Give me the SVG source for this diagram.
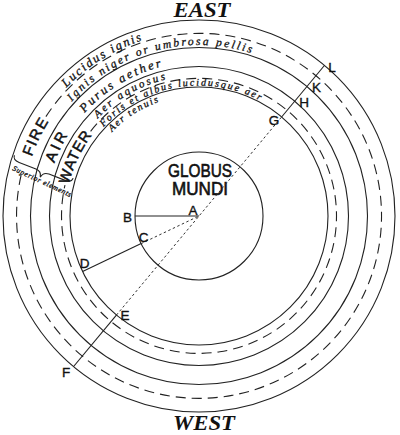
<svg xmlns="http://www.w3.org/2000/svg" width="400" height="435" viewBox="0 0 400 435">
<style>
.ln{fill:none;stroke:#222;stroke-width:1.1}
.dash{fill:none;stroke:#222;stroke-width:1.1;stroke-dasharray:10 6}
.dot{fill:none;stroke:#333;stroke-width:1;stroke-dasharray:2.5 2.5}
.lbl{font-family:"Liberation Sans",Arial,sans-serif;font-size:13.5px;fill:#111;stroke:#111;stroke-width:0.35}
.it{font-family:"Liberation Serif","Times New Roman",serif;font-style:italic;fill:#111;stroke:#111;stroke-width:0.3}
.el{font-family:"Liberation Sans",Arial,sans-serif;font-size:15px;fill:#111;stroke:#111;stroke-width:0.5}
.title{font-family:"Liberation Serif","Times New Roman",serif;font-style:italic;font-weight:bold;font-size:20px;fill:#111}
</style>
<defs>
<path id="pLuc" d="M66.3,87.8 A184.5,184.5 0 0 1 167,34.3"/>
<path id="pIgn" d="M71.9,101.6 A171,171 0 0 1 271.3,61"/>
<path id="pPur" d="M84.6,113 A154,154 0 0 1 185.6,62.6"/>
<path id="pAqu" d="M97.9,118.4 A140.5,140.5 0 0 1 186.8,76"/>
<path id="pFor" d="M103.6,127 A130.5,130.5 0 0 1 273.9,109.1"/>
<path id="pTen" d="M112,131.9 A121,121 0 0 1 178,96.8"/>
<path id="pFire" d="M31.7,156.8 A177.5,177.5 0 0 1 63,101.9"/>
<path id="pAir" d="M54.3,163.3 A154,154 0 0 1 81,117"/>
<path id="pWat" d="M68.7,184.7 A134,134 0 0 1 104.2,121.2"/>
</defs>
<g id="rings">
<circle class="ln" cx="199" cy="216" r="196"/>
<path class="dash" d="M45.9,116.6 A182.5,182.5 0 1 1 21.2,174.9"/>
<circle class="ln" cx="199" cy="216" r="168.5"/>
<circle class="ln" cx="199" cy="216" r="149.5"/>
<path class="dash" d="M90.6,131.3 A137.5,137.5 0 1 1 65,185.1"/>
<circle class="ln" cx="199" cy="216" r="129"/>
</g>
<g id="globus">
<circle class="ln" cx="199" cy="216" r="64"/>
<text x="200" y="177" text-anchor="middle" font-family="Liberation Sans,Arial,sans-serif" font-size="18" fill="#111" stroke="#111" stroke-width="0.6" textLength="64" lengthAdjust="spacingAndGlyphs">GLOBUS</text>
<text x="200" y="195" text-anchor="middle" font-family="Liberation Sans,Arial,sans-serif" font-size="18" fill="#111" stroke="#111" stroke-width="0.6" textLength="56" lengthAdjust="spacingAndGlyphs">MUNDI</text>
</g>
<g id="connectors">
<path class="ln" d="M135,216 L199,216"/>
<path class="dot" d="M141.2,243.6 L199,216"/>
<path class="ln" d="M141.2,243.6 L82.6,271.5"/>
<path class="dot" d="M116.4,315.1 L281.6,117"/>
<path class="ln" d="M281.6,117 L324.4,65.5"/>
<path class="ln" d="M116.4,315.1 L73.6,366.5"/>
</g>
<g id="points">
<text class="lbl" x="193" y="215" text-anchor="middle">A</text>
<text class="lbl" x="127.5" y="222" text-anchor="middle">B</text>
<text class="lbl" x="143.5" y="242" text-anchor="middle">C</text>
<text class="lbl" x="84.5" y="268" text-anchor="middle">D</text>
<text class="lbl" x="125" y="320" text-anchor="middle">E</text>
<text class="lbl" x="66" y="377" text-anchor="middle">F</text>
<text class="lbl" x="274" y="125" text-anchor="middle">G</text>
<text class="lbl" x="304" y="107" text-anchor="middle">H</text>
<text class="lbl" x="316.5" y="92" text-anchor="middle">K</text>
<text class="lbl" x="332" y="72" text-anchor="middle">L</text>
</g>
<g id="elements">
<text class="el"><textPath href="#pFire" textLength="39" lengthAdjust="spacing">FIRE</textPath></text>
<text class="el"><textPath href="#pAir" textLength="31" lengthAdjust="spacing">AIR</textPath></text>
<text class="el"><textPath href="#pWat" textLength="55" lengthAdjust="spacing">WATER</textPath></text>
</g>
<g id="sublabels">
<text class="it" font-size="12.5"><textPath href="#pLuc" textLength="90" lengthAdjust="spacing">Lucidus ignis</textPath></text>
<text class="it" font-size="11.5"><textPath href="#pIgn" textLength="196" lengthAdjust="spacing">Ignis niger or umbrosa pellis</textPath></text>
<text class="it" font-size="12.5"><textPath href="#pPur" textLength="91" lengthAdjust="spacing">Purus aether</textPath></text>
<text class="it" font-size="11"><textPath href="#pAqu" textLength="79" lengthAdjust="spacing">Aer aquosus</textPath></text>
<text class="it" font-size="10"><textPath href="#pFor" textLength="170" lengthAdjust="spacing">Foris et albus lucidusque aer</textPath></text>
<text class="it" font-size="10"><textPath href="#pTen" textLength="56" lengthAdjust="spacing">Aer tenuis</textPath></text>
</g>
<g id="brace">
<path class="ln" transform="translate(13,159) rotate(21.3)" d="M0,-4 Q0,1 7,1 L25,1 Q31,1 32,7 Q33,1 39,1 L57,1 Q63,1 63,-4"/>
<text class="it" font-size="7.5" stroke-width="0.15" transform="translate(12,170) rotate(25)" textLength="64" lengthAdjust="spacing">Superior elements</text>
</g>
<g id="compass">
<text class="title" x="202" y="17" text-anchor="middle" textLength="57" lengthAdjust="spacingAndGlyphs">EAST</text>
<text class="title" x="204" y="430" text-anchor="middle" textLength="62" lengthAdjust="spacingAndGlyphs">WEST</text>
</g>
</svg>
